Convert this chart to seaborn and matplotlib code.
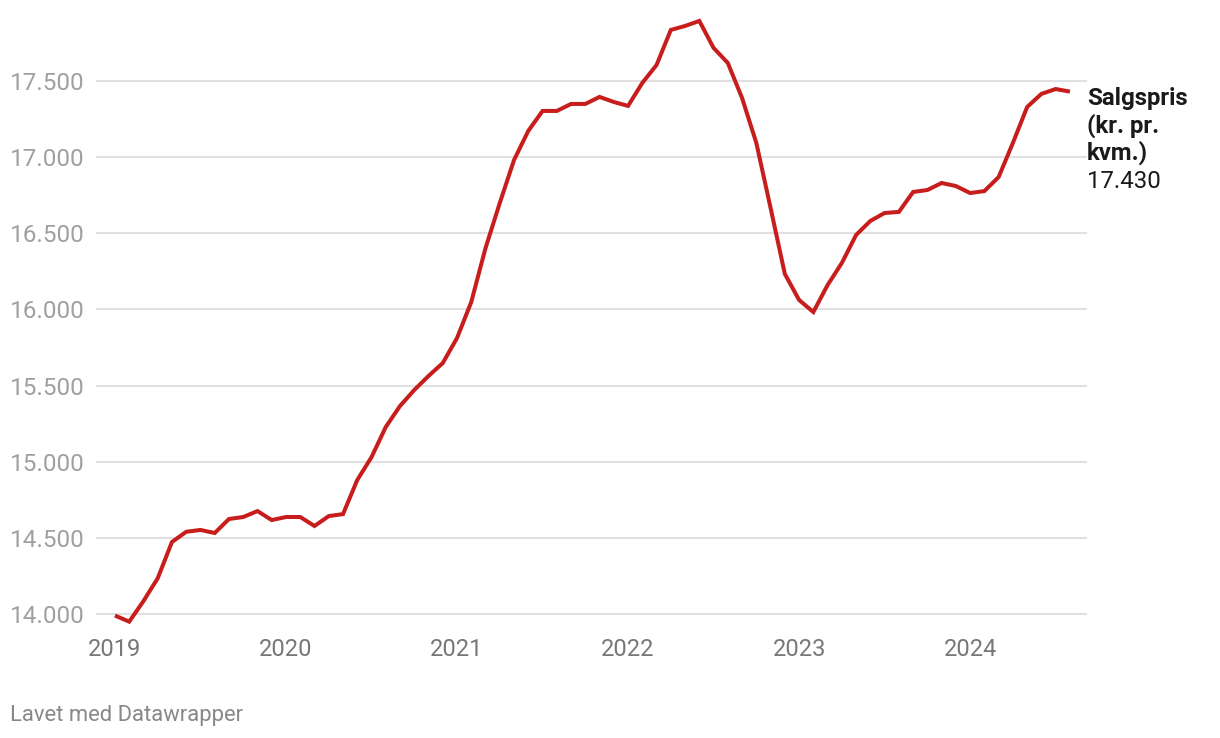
import numpy as np
import pandas as pd
import matplotlib
matplotlib.use("Agg")
import matplotlib.pyplot as plt
import seaborn as sns

# ---- data (monthly, Jan 2019 - Aug 2024) ----
years = ["2019", "2020", "2021", "2022", "2023", "2024"]
prices = [
    13990, 13950, 14085, 14235, 14473, 14540, 14552, 14532, 14624, 14637, 14676, 14617,  # 2019
    14637, 14637, 14578, 14643, 14656, 14880, 15030, 15228, 15366, 15471, 15563, 15648,  # 2020
    15812, 16049, 16403, 16699, 16981, 17172, 17303, 17303, 17349, 17349, 17395, 17362,  # 2021
    17336, 17487, 17605, 17835, 17861, 17894, 17717, 17618, 17388, 17093, 16666, 16233,  # 2022
    16062, 15983, 16160, 16305, 16489, 16581, 16633, 16640, 16771, 16784, 16830, 16810,  # 2023
    16764, 16777, 16869, 17093, 17329, 17415, 17447, 17430,                              # 2024
]
y_ticks = [14000, 14500, 15000, 15500, 16000, 16500, 17000, 17500]
series_label_lines = ["Salgspris", "(kr. pr.", "kvm.)"]
last_label = "17.430"
footer = "Lavet med Datawrapper"

df = pd.DataFrame({"month": np.arange(len(prices)), "price": prices})

sns.set_theme(style="white")
plt.rcParams["font.family"] = ["Roboto", "DejaVu Sans"]

W, H = 1220, 738
fig = plt.figure(figsize=(W / 100, H / 100), dpi=100)
ax = fig.add_axes([96 / W, 1 - 625 / H, (1087 - 96) / W, (625 - 15) / H])

for t in y_ticks:
    ax.axhline(t, color="#e0e0e0", lw=1.5, zorder=0)

sns.lineplot(data=df, x="month", y="price", color="#c71e1d", lw=2.9, ax=ax,
             solid_joinstyle="miter", solid_capstyle="butt", zorder=3)

ax.set_xlim(-1.33, 68.2)
ax.set_ylim(13928, 17933)
ax.set_xticks(np.arange(len(years)) * 12)
ax.set_xticklabels(years)
ax.set_yticks(y_ticks)
ax.set_yticklabels([f"{v:,}".replace(",", ".") for v in y_ticks])
ax.tick_params(axis="y", length=0, pad=8.5, labelsize=17.5, labelcolor="#a0a0a0")
ax.tick_params(axis="x", length=0, pad=9, labelsize=17, labelcolor="#777777")
ax.set_xlabel("")
ax.set_ylabel("")
for s in ax.spines.values():
    s.set_visible(False)

last_x = len(prices) - 1
# baselines of the label lines below the last point, in pixels
for i, line in enumerate(series_label_lines):
    ax.annotate(line, xy=(last_x, prices[-1]), xytext=(17, -(13 + 27.7 * i)),
                textcoords="offset pixels", ha="left", va="baseline",
                fontsize=17.3, fontweight="bold", color="#1a1a1a",
                annotation_clip=False)
ax.annotate(last_label, xy=(last_x, prices[-1]), xytext=(17, -(13 + 27.7 * 3)),
            textcoords="offset pixels", ha="left", va="baseline",
            fontsize=17.3, color="#1a1a1a", annotation_clip=False)

fig.text(10 / W, 1 - 716 / H, footer, ha="left", va="center",
         fontsize=15.8, color="#888888")

fig.savefig("out.png", dpi=100)
